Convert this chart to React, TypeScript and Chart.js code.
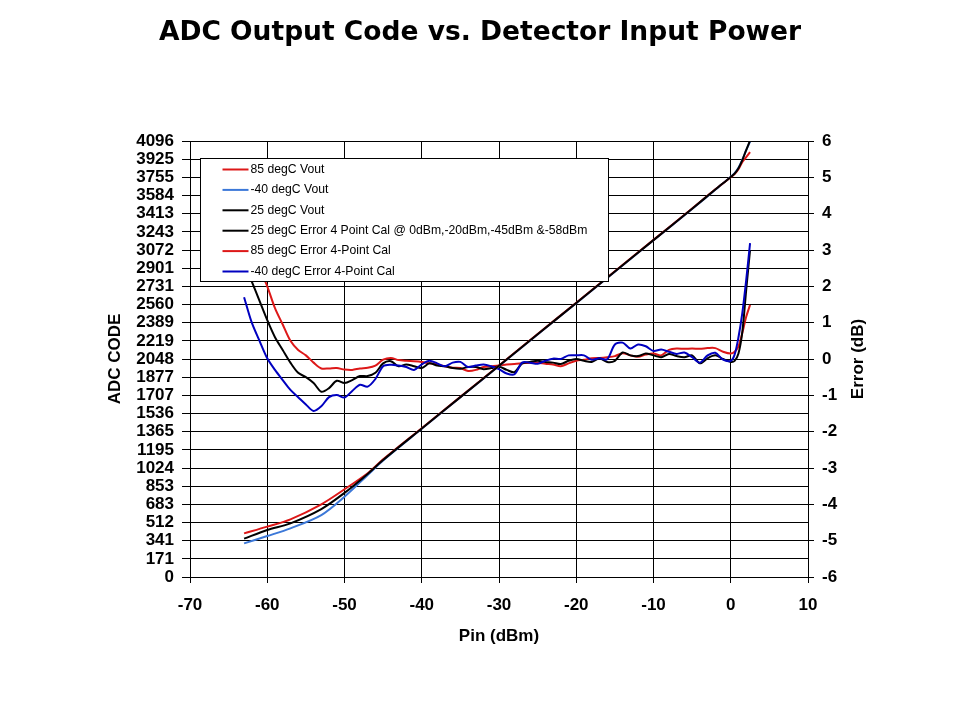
import React, { useEffect, useRef } from "react";
import { Chart, registerables } from "chart.js";

Chart.register(...registerables);

// ---- Data ----
const chartTitle = "ADC Output Code vs. Detector Input Power";
const xAxisTitle = "Pin (dBm)";
const yAxisTitle = "ADC CODE";
const y2AxisTitle = "Error (dB)";

const leftTickLabels = [
  "0", "171", "341", "512", "683", "853", "1024", "1195", "1365", "1536", "1707", "1877",
  "2048", "2219", "2389", "2560", "2731", "2901", "3072", "3243", "3413", "3584", "3755", "3925", "4096",
];

const xVout = [-63, -60, -57, -53, -50, -47, -45, -40, -35, -30, -25, -20, -15, -10, -5, -2, 0, 0.5, 1, 1.5, 2, 2.5];
const vout85 = [410, 473, 542, 683, 824, 975, 1105, 1398, 1692, 1987, 2282, 2577, 2872, 3167, 3462, 3642, 3755, 3785, 3830, 3899, 3945, 3992];
const voutM40 = [316, 385, 457, 582, 754, 958, 1095, 1392, 1688, 1983, 2278, 2573, 2868, 3163, 3458, 3638, 3760, 3795, 3845, 3920, 4010, 4090];
const vout25 = [360, 441, 504, 638, 790, 968, 1099, 1395, 1690, 1985, 2280, 2575, 2870, 3165, 3460, 3640, 3758, 3790, 3840, 3917, 4011, 4100];

const xErr = [
  -63, -62, -61, -60, -59, -58, -57, -56, -55, -54, -53, -52, -51, -50, -49, -48, -47, -46, -45, -44,
  -43, -42, -41, -40, -39, -38, -37, -36, -35, -34, -33, -32, -31, -30, -29, -28, -27, -26, -25, -24,
  -23, -22, -21, -20, -19, -18, -17, -16, -15, -14, -13, -12, -11, -10, -9, -8, -7, -6, -5, -4,
  -3, -2, -1, 0, 0.5, 1, 1.5, 2, 2.5,
];
const err25 = [
  2.66, 2.13, 1.6, 1.07, 0.6, 0.25, -0.1, -0.38, -0.5, -0.66, -0.9, -0.8, -0.6, -0.66, -0.58, -0.47, -0.47, -0.38, -0.12, -0.06,
  -0.2, -0.15, -0.2, -0.25, -0.12, -0.18, -0.2, -0.25, -0.27, -0.22, -0.22, -0.28, -0.25, -0.21, -0.3, -0.36, -0.12, -0.08, -0.05, -0.08,
  -0.1, -0.14, -0.05, 0.0, -0.05, -0.08, 0.02, -0.08, -0.05, 0.18, 0.1, 0.08, 0.15, 0.1, 0.05, 0.14, 0.08, 0.05, 0.1, -0.12,
  0.02, 0.1, 0.0, -0.08, -0.05, 0.15, 0.75, 1.9, 3.0,
];
const err85 = [
  3.5, 3.0, 2.5, 2.0, 1.4, 0.95, 0.5, 0.25, 0.1, -0.1, -0.26, -0.26, -0.25, -0.29, -0.3, -0.26, -0.24, -0.18, -0.02, 0.03,
  -0.03, -0.05, -0.06, -0.08, -0.12, -0.15, -0.2, -0.24, -0.25, -0.33, -0.3, -0.22, -0.2, -0.18, -0.15, -0.14, -0.12, -0.1, -0.1, -0.13,
  -0.15, -0.2, -0.12, -0.05, -0.02, 0.02, 0.03, 0.05, 0.08, 0.16, 0.1, 0.06, 0.12, 0.15, 0.1, 0.25, 0.29, 0.28, 0.29, 0.28,
  0.3, 0.3, 0.2, 0.15, 0.2, 0.35, 0.72, 1.16, 1.49,
];
const errM40 = [
  1.7, 1.0, 0.5, 0.02, -0.3, -0.58, -0.85, -1.05, -1.25, -1.43, -1.3, -1.05, -0.99, -1.06, -0.88, -0.71, -0.76, -0.55, -0.2, -0.16,
  -0.18, -0.22, -0.3, -0.15, -0.05, -0.12, -0.2, -0.1, -0.08, -0.22, -0.18, -0.15, -0.2, -0.28, -0.4, -0.42, -0.1, -0.1, -0.13, -0.05,
  0.01, 0.0, 0.1, 0.1, 0.1, -0.02, 0.02, -0.01, 0.4, 0.45, 0.29, 0.4, 0.35, 0.22, 0.26, 0.2, 0.14, 0.18, 0.05, -0.1,
  0.1, 0.17, -0.02, -0.05, 0.12, 0.6, 1.27, 2.17, 3.19,
];

const legendLabels = [
  "85 degC Vout",
  "-40 degC Vout",
  "25 degC Vout",
  "25 degC Error 4 Point Cal @ 0dBm,-20dBm,-45dBm &-58dBm",
  "85 degC Error 4-Point Cal",
  "-40 degC Error 4-Point Cal",
];

const RED = "#DD1818";
const LIGHT_BLUE = "#3C78D8";
const BLACK = "#000000";
const DARK_BLUE = "#0000C0";
const legendColors = [RED, LIGHT_BLUE, BLACK, BLACK, RED, DARK_BLUE];

const toPoints = (xs: number[], ys: number[]) => xs.map((x, i) => ({ x, y: ys[i] }));

const overlayPlugin = {
  id: "overlay",
  afterDatasetsDraw(chart: any) {
    const { ctx, chartArea } = chart;
    const bx = Math.round(chartArea.left + 10) + 0.5;
    const by = Math.round(chartArea.top + 17) + 0.5;
    const bw = 408;
    const bh = 123;
    ctx.save();
    ctx.fillStyle = "#ffffff";
    ctx.fillRect(bx, by, bw, bh);
    ctx.strokeStyle = "#000000";
    ctx.lineWidth = 1;
    ctx.strokeRect(bx, by, bw, bh);
    ctx.font = "12.2px 'Liberation Sans', Arial, sans-serif";
    ctx.textBaseline = "middle";
    ctx.textAlign = "left";
    legendLabels.forEach((label, i) => {
      const y = by + 11 + i * 20.4;
      ctx.strokeStyle = legendColors[i];
      ctx.lineWidth = 2;
      ctx.beginPath();
      ctx.moveTo(bx + 22, y);
      ctx.lineTo(bx + 48, y);
      ctx.stroke();
      ctx.fillStyle = "#000000";
      ctx.fillText(label, bx + 50, y);
    });
    ctx.restore();
  },
  afterDraw(chart: any) {
    const { ctx, chartArea } = chart;
    ctx.save();
    ctx.fillStyle = "#000000";
    ctx.textAlign = "center";
    ctx.textBaseline = "middle";
    ctx.font = "bold 26.5px 'DejaVu Sans', Verdana, sans-serif";
    ctx.fillText(chartTitle, 480, 33);

    ctx.font = "bold 17px 'Liberation Sans', Arial, sans-serif";
    const cy = (chartArea.top + chartArea.bottom) / 2;
    ctx.fillText(xAxisTitle, (chartArea.left + chartArea.right) / 2, 636);

    ctx.save();
    ctx.translate(115, cy);
    ctx.rotate(-Math.PI / 2);
    ctx.fillText(yAxisTitle, 0, 0);
    ctx.restore();

    ctx.save();
    ctx.translate(858, cy);
    ctx.rotate(-Math.PI / 2);
    ctx.fillText(y2AxisTitle, 0, 0);
    ctx.restore();

    ctx.restore();
  },
};

export default function App() {
  const canvasRef = useRef<HTMLCanvasElement | null>(null);

  useEffect(() => {
    if (!canvasRef.current) return;
    const tickFont = { family: "'Liberation Sans', Arial, sans-serif", size: 17, weight: "bold" as const };
    const lineDs = (label: string, data: any[], color: string, axis: string, width = 2) => ({
      label,
      data,
      borderColor: color,
      backgroundColor: color,
      borderWidth: width,
      pointRadius: 0,
      fill: false,
      tension: 0.3,
      yAxisID: axis,
    });
    const chart = new Chart(canvasRef.current, {
      type: "line",
      data: {
        datasets: [
          lineDs(legendLabels[2], toPoints(xVout, vout25), BLACK, "y"),
          lineDs(legendLabels[0], toPoints(xVout, vout85), RED, "y"),
          lineDs(legendLabels[1], toPoints(xVout, voutM40), LIGHT_BLUE, "y"),
          lineDs(legendLabels[5], toPoints(xErr, errM40), DARK_BLUE, "y2"),
          lineDs(legendLabels[3], toPoints(xErr, err25), BLACK, "y2"),
          lineDs(legendLabels[4], toPoints(xErr, err85), RED, "y2"),
        ],
      },
      options: {
        animation: false,
        responsive: true,
        maintainAspectRatio: false,
        layout: { padding: { top: 141, left: 0, right: 0, bottom: 0 } },
        plugins: {
          legend: { display: false },
          title: { display: false },
          tooltip: { enabled: false },
        },
        scales: {
          x: {
            type: "linear",
            min: -70,
            max: 10,
            ticks: { stepSize: 10, color: "#000", font: tickFont, padding: 12 },
            grid: { color: "#000", lineWidth: 1, tickLength: 6 },
            border: { color: "#000", width: 1 },
            afterFit: (s: any) => { s.height = 143; },
          },
          y: {
            type: "linear",
            position: "left",
            min: 0,
            max: 4096,
            afterBuildTicks: (s: any) => {
              s.ticks = leftTickLabels.map((_, i) => ({ value: (i * 4096) / 24 }));
            },
            ticks: {
              color: "#000",
              font: tickFont,
              padding: 8,
              autoSkip: false,
              callback: (_v: any, i: number) => leftTickLabels[i],
            },
            grid: { color: "#000", lineWidth: 1, tickLength: 8 },
            border: { color: "#000", width: 1 },
            afterFit: (s: any) => { s.width = 190; },
          },
          y2: {
            type: "linear",
            position: "right",
            min: -6,
            max: 6,
            ticks: { stepSize: 1, color: "#000", font: tickFont, padding: 8 },
            grid: { drawOnChartArea: false, color: "#000", tickLength: 6 },
            border: { color: "#000", width: 1 },
            afterFit: (s: any) => { s.width = 152; },
          },
        },
      },
      plugins: [overlayPlugin],
    } as any);
    return () => chart.destroy();
  }, []);

  return (
    <div style={{ position: "absolute", left: 0, top: 0, width: 960, height: 720, background: "#fff" }}>
      <canvas ref={canvasRef} />
    </div>
  );
}
